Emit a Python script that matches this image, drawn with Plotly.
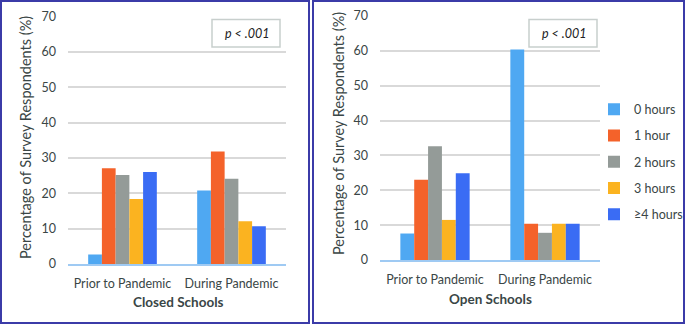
import plotly.graph_objects as go

categories = ["Prior to Pandemic", "During Pandemic"]
series_names = ["0 hours", "1 hour", "2 hours", "3 hours", "≥4 hours"]
colors = ["#4fa8f2", "#f4622a", "#949b98", "#fbb320", "#3a6cf4"]

closed_values = [
    [2.7, 20.8],   # 0 hours
    [27.1, 31.8],  # 1 hour
    [25.2, 24.1],  # 2 hours
    [18.4, 12.1],  # 3 hours
    [26.0, 10.7],  # >=4 hours
]
open_values = [
    [7.6, 60.4],
    [23.0, 10.4],
    [32.6, 7.8],
    [11.5, 10.4],
    [24.9, 10.4],
]
y_ticks = [0, 10, 20, 30, 40, 50, 60, 70]
panel_titles = ["Closed Schools", "Open Schools"]
y_title = "Percentage of Survey Respondents (%)"
p_text = "<i>p</i><i> < .001</i>"

W, H = 685, 325
FONT = "Lato"
TXT = "#3a4646"

fig = go.Figure()
for i, name in enumerate(series_names):
    fig.add_trace(go.Bar(x=categories, y=closed_values[i], name=name,
                         marker=dict(color=colors[i], line=dict(width=0)),
                         xaxis="x", yaxis="y", showlegend=False, legendgroup=name))
for i, name in enumerate(series_names):
    fig.add_trace(go.Bar(x=categories, y=open_values[i], name=name,
                         marker=dict(color=colors[i], line=dict(width=0)),
                         xaxis="x2", yaxis="y2", showlegend=True, legendgroup=name))

def px(v):
    return v / W
def py(v):
    return 1 - v / H

axis_common = dict(
    range=[0, 70], tickvals=y_ticks, showgrid=True, gridcolor="#d9d9d9", gridwidth=1.5,
    zeroline=False, showline=False, ticks="", tickfont=dict(size=12.5, color=TXT, family=FONT),
    fixedrange=True, automargin=False, ticklabelstandoff=11,
)
xaxis_common = dict(
    showgrid=False, zeroline=False, showline=True, linecolor="#9fcaf3", linewidth=2,
    ticks="", tickangle=0, tickfont=dict(size=12.5, color=TXT, family=FONT),
    automargin=False, ticklabelstandoff=7, fixedrange=True,
)

annotations = [
    dict(text=p_text, xref="paper", yref="paper", x=px(247), y=py(33), showarrow=False,
         font=dict(size=12.5, color="#222", family=FONT), xanchor="center", yanchor="middle"),
    dict(text=p_text, xref="paper", yref="paper", x=px(564), y=py(33), showarrow=False,
         font=dict(size=12.5, color="#222", family=FONT), xanchor="center", yanchor="middle"),
    dict(text="<b>" + panel_titles[0] + "</b>", xref="paper", yref="paper", x=px(178), y=py(302),
         showarrow=False, font=dict(size=13.5, color=TXT, family=FONT), xanchor="center", yanchor="middle"),
    dict(text="<b>" + panel_titles[1] + "</b>", xref="paper", yref="paper", x=px(490), y=py(299),
         showarrow=False, font=dict(size=13.5, color=TXT, family=FONT), xanchor="center", yanchor="middle"),
    dict(text=y_title, xref="paper", yref="paper", x=px(25), y=py(138), textangle=-90,
         showarrow=False, font=dict(size=14.5, color=TXT, family=FONT), xanchor="center", yanchor="middle"),
    dict(text=y_title, xref="paper", yref="paper", x=px(338), y=py(134), textangle=-90,
         showarrow=False, font=dict(size=14.5, color=TXT, family=FONT), xanchor="center", yanchor="middle"),
]

fig.update_layout(
    width=W, height=H,
    margin=dict(l=0, r=0, t=0, b=0, autoexpand=False),
    paper_bgcolor="white", plot_bgcolor="white",
    barmode="group", bargap=0.37, bargroupgap=0,
    font=dict(family=FONT, color=TXT),
    xaxis=dict(domain=[px(68), px(286)], anchor="y", **xaxis_common),
    yaxis=dict(domain=[py(264), py(16.5)], anchor="x", **axis_common),
    xaxis2=dict(domain=[px(380), px(600)], anchor="y2", **xaxis_common),
    yaxis2=dict(domain=[py(260), py(16)], anchor="x2", **axis_common),
    legend=dict(x=px(594), y=py(162), xanchor="left", yanchor="middle",
                font=dict(size=12.5, color=TXT, family=FONT), tracegroupgap=7,
                bgcolor="rgba(0,0,0,0)", itemwidth=30),
    shapes=[
        dict(type="rect", xref="paper", yref="paper", x0=px(1), x1=px(309), y0=py(323), y1=py(1),
             line=dict(color="#3b3ba8", width=2)),
        dict(type="rect", xref="paper", yref="paper", x0=px(313), x1=px(684), y0=py(323), y1=py(1),
             line=dict(color="#3b3ba8", width=2)),
        dict(type="rect", xref="paper", yref="paper", x0=px(212), x1=px(280), y0=py(47), y1=py(19.5),
             line=dict(color="#c8cfcd", width=1.5), fillcolor="white"),
        dict(type="rect", xref="paper", yref="paper", x0=px(529), x1=px(597), y0=py(47), y1=py(19.5),
             line=dict(color="#c8cfcd", width=1.5), fillcolor="white"),
    ],
    annotations=annotations,
)

fig.write_html(
    "out.html",
    config={"displayModeBar": False},
    post_script="document.body.style.margin='0';document.body.style.padding='0';",
)
